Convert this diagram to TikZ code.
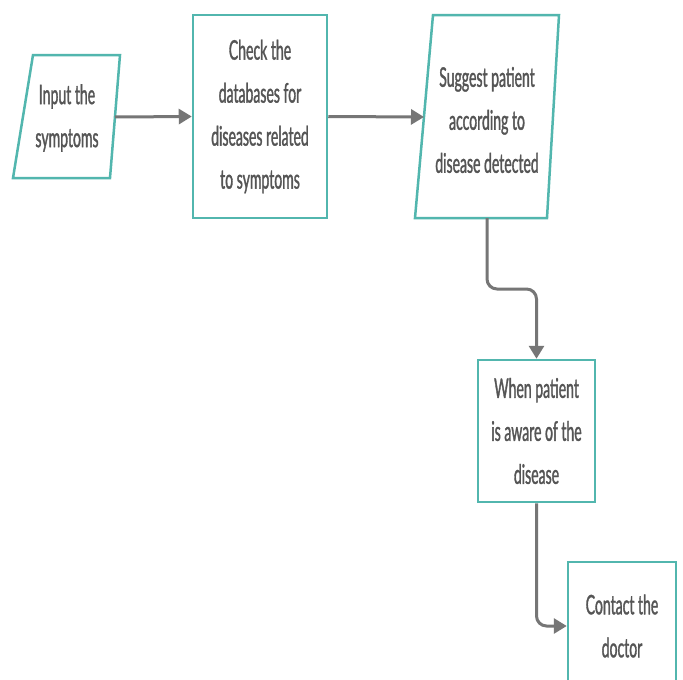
\documentclass[tikz,border=0pt]{standalone}
\usepackage{fontspec}
\setmainfont{Lato}[FakeStretch=0.52,FakeBold=1.2]
\usetikzlibrary{arrows.meta}
\definecolor{tealb}{RGB}{82,182,174}
\definecolor{arrg}{RGB}{118,118,118}
\definecolor{txtg}{RGB}{85,85,85}
\begin{document}
\begin{tikzpicture}[x=1pt,y=-1pt,
  boxline/.style={draw=tealb,line width=2.5pt,fill=white},
  txt/.style={text=txtg,align=center,font=\fontsize{27}{43}\selectfont,inner sep=0pt},
  rbox/.style={boxline,txt,inner sep=0pt},
  arr/.style={draw=arrg,line width=3pt,-{Triangle[length=13pt,width=15pt]}}]
\useasboundingbox (0,0) rectangle (683,680);
\fill[white] (0,0) rectangle (683,680);
% box 1 parallelogram
\draw[boxline] (33,55) -- (120,55) -- (110,178) -- (13,178) -- cycle;
\node[txt] (b1) at (67,118) {Input the\\symptoms};
\coordinate (b1e) at (115,117);
% box 2
\node[rbox,minimum width=134pt,minimum height=203pt] (b2) at (260,116.5) {Check the\\databases for\\diseases related\\to symptoms};
% box 3 parallelogram
\draw[boxline] (433,15) -- (559,15) -- (547,218) -- (415,218) -- cycle;
\node[txt] (b3) at (487,120) {Suggest patient\\according to\\disease detected};
\coordinate (b3w) at (424,117);
\coordinate (b3s) at (487,218);
% box 4
\node[rbox,minimum width=117pt,minimum height=142pt] (b4) at (536.5,431) {When patient\\is aware of the\\disease};
% box 5
\node[rbox,minimum width=108pt,minimum height=128pt] (b5) at (622,626) {Contact the\\doctor};
% arrows
\draw[arr] (b1e) -- (b2.west);
\draw[arr] (b2.east) -- (b3w);
\draw[arr,rounded corners=10pt] (b3s) -- ++(0,71) -| (b4.north);
\draw[arr,rounded corners=10pt] (b4.south) |- (b5.west);
\end{tikzpicture}
\end{document}
